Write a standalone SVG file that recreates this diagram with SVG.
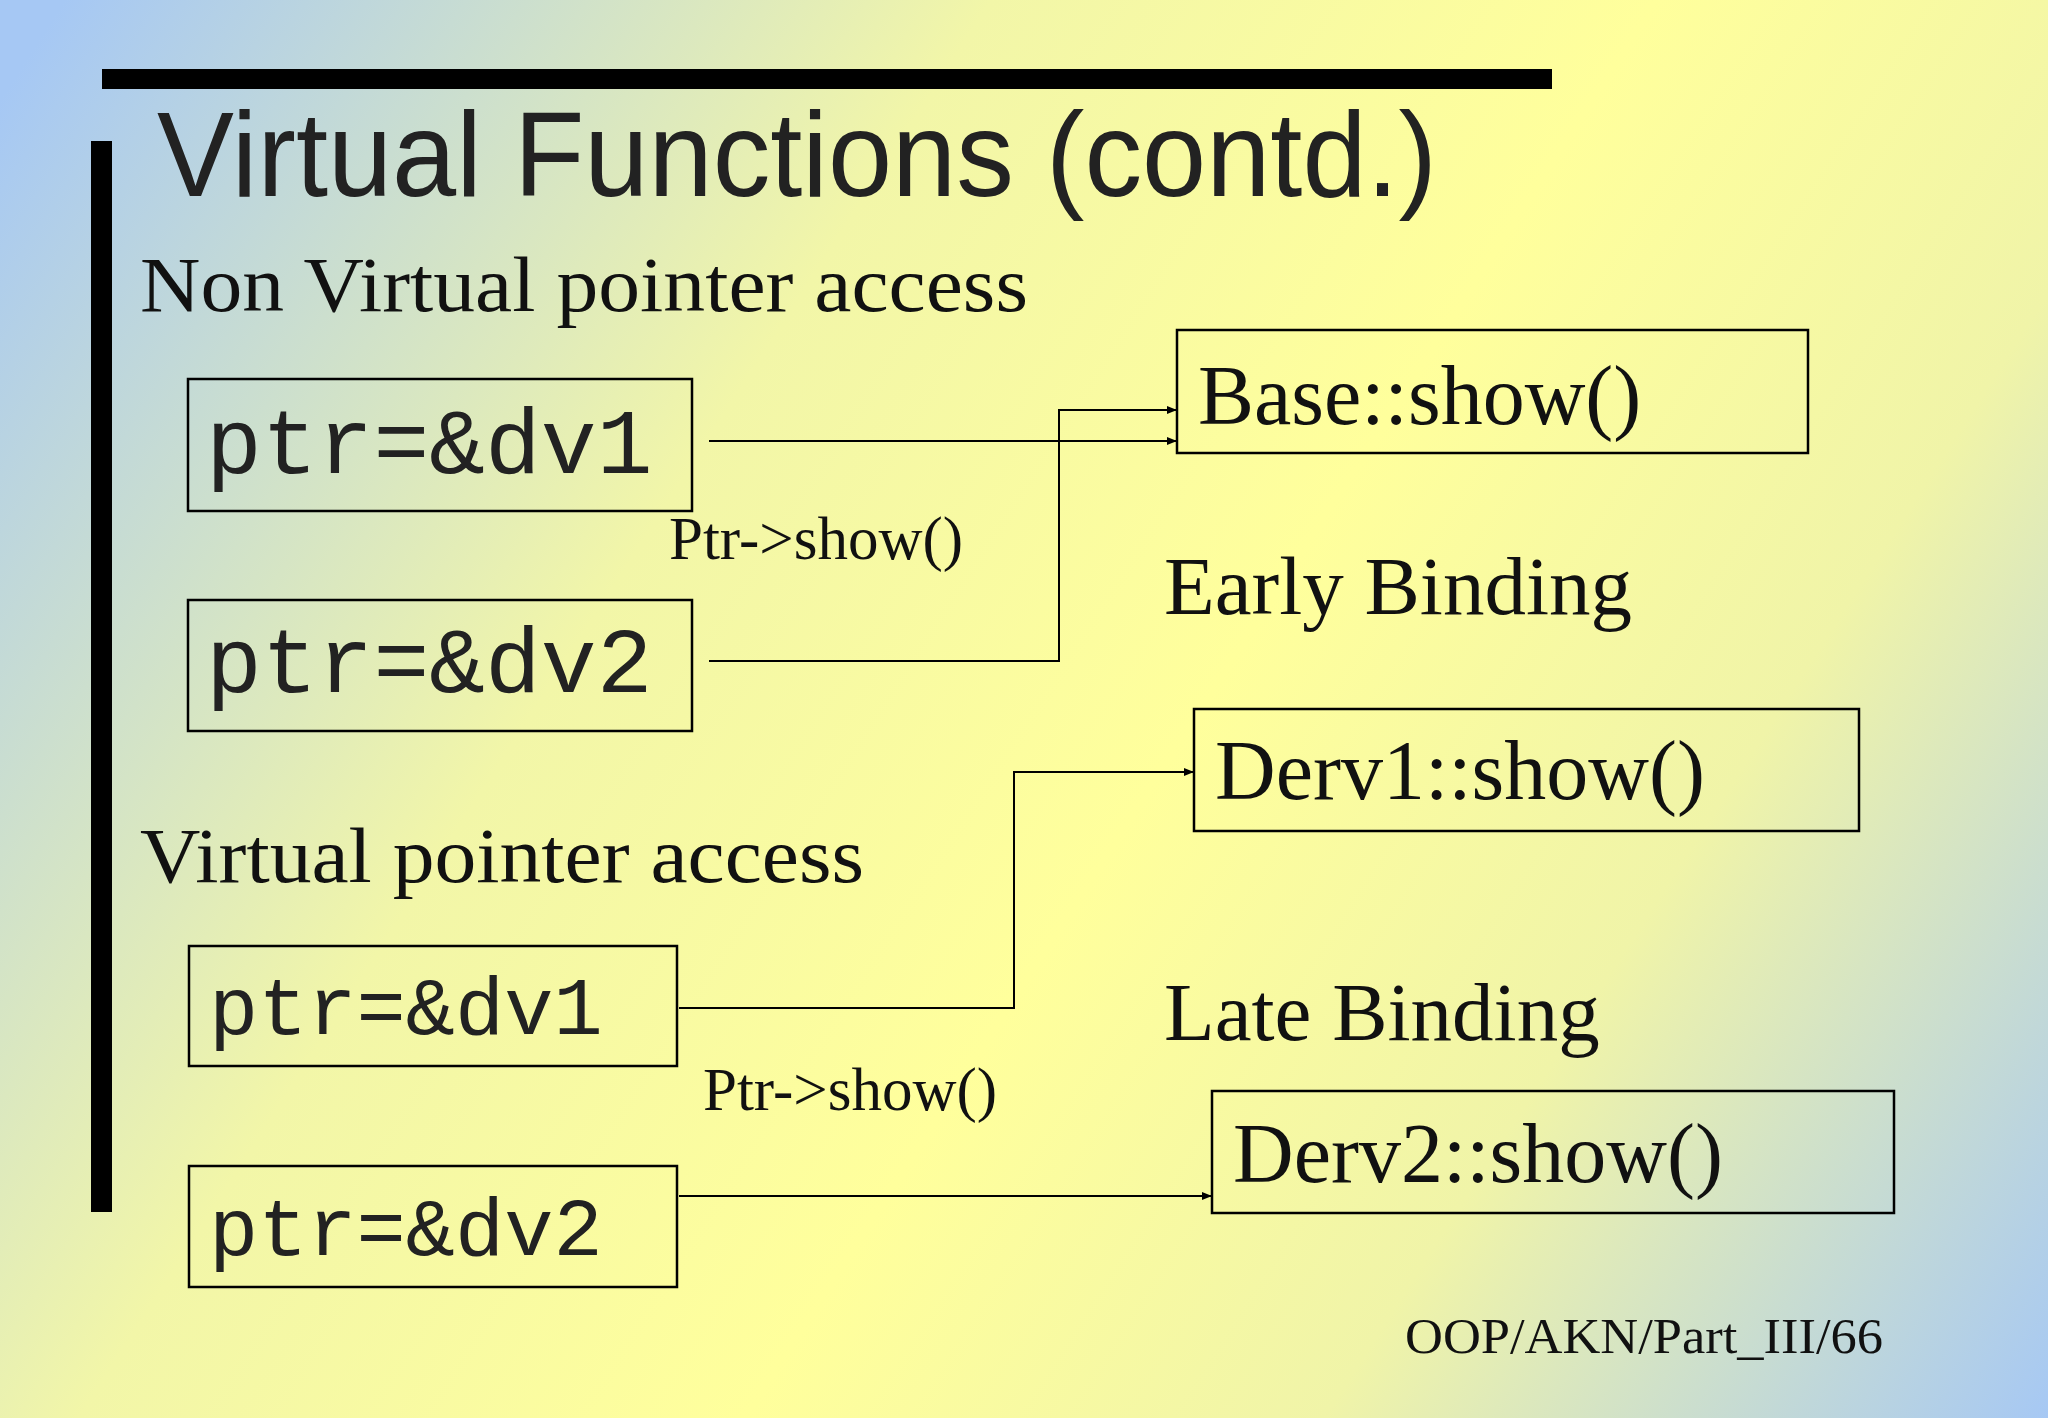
<svg xmlns="http://www.w3.org/2000/svg" width="2048" height="1418" viewBox="0 0 2048 1418">
<defs>
<linearGradient id="bg" x1="0" y1="100" x2="2048" y2="1418" gradientUnits="userSpaceOnUse">
<stop offset="0" stop-color="#a6c8f4"/>
<stop offset="0.32" stop-color="#f2f6a8"/>
<stop offset="0.55" stop-color="#ffff9c"/>
<stop offset="0.75" stop-color="#f0f4a8"/>
<stop offset="1" stop-color="#a6c8f4"/>
</linearGradient>
<marker id="ah" markerWidth="10" markerHeight="8" refX="10" refY="4" orient="auto" markerUnits="userSpaceOnUse">
<path d="M0,0 L10,4 L0,8 z" fill="#000"/>
</marker>
<style>
.box{fill:none;stroke:#000;stroke-width:2.5}
.mono{font-family:"Liberation Mono",monospace;fill:#222}
.serif{font-family:"Liberation Serif",serif;fill:#111}
.conn{fill:none;stroke:#000;stroke-width:2;marker-end:url(#ah)}
</style>
</defs>
<rect width="2048" height="1418" fill="url(#bg)"/>
<rect x="102" y="69" width="1450" height="20" fill="#000"/>
<rect x="91" y="141" width="21" height="1071" fill="#000"/>
<text x="157" y="196" font-family="Liberation Sans, Arial, sans-serif" font-size="120" fill="#222" textLength="1280" lengthAdjust="spacingAndGlyphs">Virtual Functions (contd.)</text>
<text class="serif" x="140" y="311" font-size="78" textLength="888" lengthAdjust="spacingAndGlyphs">Non Virtual pointer access</text>
<text class="serif" x="140" y="882" font-size="78" textLength="724" lengthAdjust="spacingAndGlyphs">Virtual pointer access</text>
<text class="serif" x="1164" y="614" font-size="83">Early Binding</text>
<text class="serif" x="1164" y="1040" font-size="83">Late Binding</text>
<text class="serif" x="669" y="559" font-size="61">Ptr-&gt;show()</text>
<text class="serif" x="703" y="1110" font-size="61">Ptr-&gt;show()</text>
<text class="serif" x="1405" y="1353" font-size="50" textLength="478" lengthAdjust="spacingAndGlyphs">OOP/AKN/Part_III/66</text>
<g id="connectors">
<path class="conn" d="M709,441 L1177,441"/>
<path class="conn" d="M709,661 L1059,661 L1059,410 L1177,410"/>
<path class="conn" d="M679,1008 L1014,1008 L1014,772 L1194,772"/>
<path class="conn" d="M679,1196 L1212,1196"/>
</g>
<g id="n1"><rect class="box" x="188" y="379" width="504" height="132"/><text class="mono" x="206" y="473" font-size="93">ptr=&amp;dv1</text></g>
<g id="n2"><rect class="box" x="188" y="600" width="504" height="131"/><text class="mono" x="206" y="692" font-size="93">ptr=&amp;dv2</text></g>
<g id="n3"><rect class="box" x="189" y="946" width="488" height="120"/><text class="mono" x="209" y="1034" font-size="82">ptr=&amp;dv1</text></g>
<g id="n4"><rect class="box" x="189" y="1166" width="488" height="121"/><text class="mono" x="209" y="1255" font-size="82">ptr=&amp;dv2</text></g>
<g id="base"><rect class="box" x="1177" y="330" width="631" height="123"/><text class="serif" x="1198" y="424" font-size="84">Base::show()</text></g>
<g id="derv1"><rect class="box" x="1194" y="709" width="665" height="122"/><text class="serif" x="1215" y="799" font-size="84">Derv1::show()</text></g>
<g id="derv2"><rect class="box" x="1212" y="1091" width="682" height="122"/><text class="serif" x="1233" y="1182" font-size="84">Derv2::show()</text></g>
</svg>
